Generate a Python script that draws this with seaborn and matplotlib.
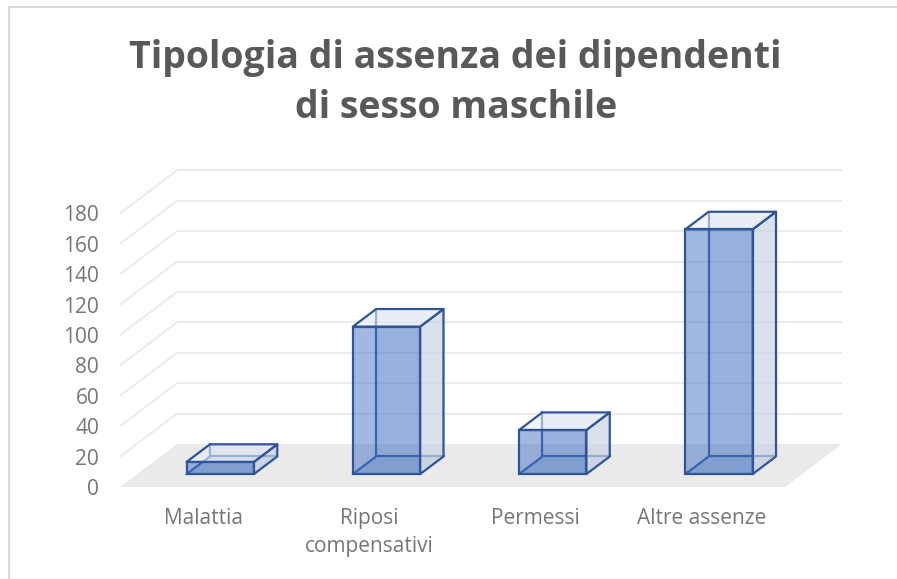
import matplotlib
matplotlib.use("Agg")
import matplotlib.pyplot as plt
import seaborn as sns
import pandas as pd
from matplotlib.patches import Polygon
from matplotlib.lines import Line2D

# ---- data ----
categories = ["Malattia", "Riposi\ncompensativi", "Permessi", "Altre assenze"]
values = [8, 97, 29, 161]
y_ticks = [0, 20, 40, 60, 80, 100, 120, 140, 160, 180]
title = "Tipologia di assenza dei dipendenti\ndi sesso maschile"

sns.set_theme(style="white")
plt.rcParams['font.family'] = ['Open Sans', 'DejaVu Sans']

W, H = 897, 579
fig = plt.figure(figsize=(W / 100, H / 100), dpi=100)
fig.patch.set_facecolor("white")

# axes: front plane from px x=120 (left) ; back wall right edge at px 842
ax = fig.add_axes([120 / W, (H - 487) / H, (842 - 120) / W, (487 - 160) / H])
ax.set_facecolor("none")

PX_CAT = 166.25          # px per category
PX_VAL = 30.4 / 20       # px per value unit
DX = 57 / PX_CAT         # depth offset (x, in category units)
DY = 43 / PX_VAL         # depth offset (y, in value units)
F0, F1 = 0.30, 0.71      # bar depth range (fraction of floor depth)

df = pd.DataFrame({"cat": categories, "val": values})
sns.barplot(data=df, x="cat", y="val", width=0.405, ax=ax,
            color="#4472c4", saturation=1, zorder=5)
bars = list(ax.patches)

ax.set_xlim(-0.5, -0.5 + 722 / PX_CAT)
ax.set_ylim(0, 327 / PX_VAL)

# floor
floor = Polygon([(-0.5, 0), (3.5, 0), (3.5 + DX, DY), (-0.5 + DX, DY)],
                closed=True, facecolor="#eaeaea", edgecolor="none", zorder=1)
ax.add_patch(floor)

# gridlines: back wall and left wall
grid_c = "#ebebeb"
for v in y_ticks[1:]:
    ax.plot([-0.5 + DX, 3.5 + DX], [v + DY, v + DY], color=grid_c, lw=1.4,
            zorder=1.5, solid_capstyle="butt")
    ax.plot([-0.5, -0.5 + DX], [v, v + DY], color=grid_c, lw=1.4,
            zorder=1.5, solid_capstyle="butt")

edge_c = "#2f5597"
lw = 1.6
bx = (F1 - F0) * DX
by = (F1 - F0) * DY
for p in bars:
    x0 = p.get_x() + F0 * DX
    w = p.get_width()
    h = p.get_height()
    y0 = F0 * DY
    p.set_x(x0)
    p.set_y(y0)
    p.set_facecolor((0x44 / 255, 0x72 / 255, 0xc4 / 255, 0.5))
    p.set_edgecolor(edge_c)
    p.set_linewidth(lw)
    p.set_zorder(5)
    # bottom face
    ax.add_patch(Polygon([(x0, y0), (x0 + w, y0), (x0 + w + bx, y0 + by), (x0 + bx, y0 + by)],
                         closed=True, facecolor=(0.27, 0.45, 0.77, 0.25),
                         edgecolor="none", zorder=2))
    # back face (faint)
    ax.add_patch(Polygon([(x0 + bx, y0 + by), (x0 + w + bx, y0 + by),
                          (x0 + w + bx, y0 + h + by), (x0 + bx, y0 + h + by)],
                         closed=True, facecolor=(0.27, 0.45, 0.77, 0.10),
                         edgecolor="none", zorder=2))
    # hidden back edges
    ax.plot([x0, x0 + bx], [y0, y0 + by], color=edge_c, lw=lw, zorder=2.2)
    ax.plot([x0 + bx, x0 + w + bx], [y0 + by, y0 + by], color=edge_c, lw=lw, zorder=2.2)
    ax.plot([x0 + bx, x0 + bx], [y0 + by, y0 + h + by], color=edge_c, lw=lw, zorder=2.2)
    # right side face
    ax.add_patch(Polygon([(x0 + w, y0), (x0 + w + bx, y0 + by), (x0 + w + bx, y0 + h + by),
                          (x0 + w, y0 + h)], closed=True,
                         facecolor=(0.82, 0.85, 0.90, 0.65), edgecolor=edge_c,
                         linewidth=lw, zorder=3, joinstyle="round"))
    # top face
    ax.add_patch(Polygon([(x0, y0 + h), (x0 + w, y0 + h), (x0 + w + bx, y0 + h + by),
                          (x0 + bx, y0 + h + by)], closed=True,
                         facecolor=(0.91, 0.93, 0.96, 0.6), edgecolor=edge_c,
                         linewidth=lw, zorder=3, joinstyle="round"))

for s in ax.spines.values():
    s.set_visible(False)
ax.set_xlabel("")
ax.set_ylabel("")
ax.set_yticks(y_ticks)
ax.set_yticklabels([str(v) for v in y_ticks])
ax.set_xticks(range(len(categories)))
ax.set_xticklabels(categories, linespacing=1.42, va="top")
ax.tick_params(axis="y", length=0, pad=15, labelsize=15, labelcolor="#767676")
ax.tick_params(axis="x", length=0, pad=15, labelsize=15, labelcolor="#767676")
ax.grid(False)

fig.text(0.508, 1 - 39 / H, title, ha="center", va="top", fontsize=27,
         fontweight="bold", color="#595959", linespacing=1.42)

# outer chart border (left and top)
fig.add_artist(Line2D([8.5 / W, 8.5 / W], [0, 1 - 6.5 / H], transform=fig.transFigure,
                      color="#d9d9d9", lw=1.5))
fig.add_artist(Line2D([8.5 / W, 1], [1 - 6.5 / H, 1 - 6.5 / H], transform=fig.transFigure,
                      color="#d9d9d9", lw=1.5))

fig.savefig("out.png", dpi=100)
